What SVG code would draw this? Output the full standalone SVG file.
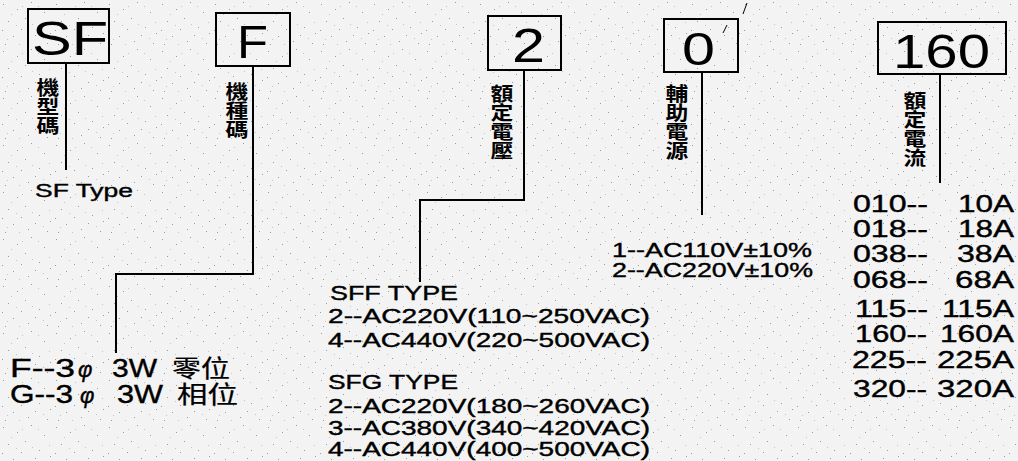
<svg xmlns="http://www.w3.org/2000/svg" width="1018" height="461" viewBox="0 0 1018 461">
<defs>
<pattern id="noise" width="53" height="47" patternUnits="userSpaceOnUse">
<rect width="53" height="47" fill="#f3f3f3"/>
<g fill="#9a9a9a">
<rect x="3" y="4" width="1" height="1"/><rect x="17" y="9" width="1" height="1"/><rect x="31" y="2" width="1" height="1"/>
<rect x="44" y="12" width="1" height="1"/><rect x="8" y="21" width="1" height="1"/><rect x="25" y="18" width="1" height="1"/>
<rect x="39" y="27" width="1" height="1"/><rect x="50" y="33" width="1" height="1"/><rect x="13" y="36" width="1" height="1"/>
<rect x="28" y="41" width="1" height="1"/><rect x="5" y="44" width="1" height="1"/><rect x="47" y="43" width="1" height="1"/>
<rect x="21" y="29" width="1" height="1"/><rect x="35" y="35" width="1" height="1"/><rect x="2" y="30" width="1" height="1"/>
</g>
<g fill="#c4c4c4">
<rect x="11" y="14" width="1" height="1"/><rect x="38" y="6" width="1" height="1"/><rect x="22" y="6" width="1" height="1"/>
<rect x="49" y="22" width="1" height="1"/><rect x="16" y="25" width="1" height="1"/><rect x="32" y="24" width="1" height="1"/>
<rect x="43" y="38" width="1" height="1"/><rect x="19" y="44" width="1" height="1"/><rect x="7" y="39" width="1" height="1"/>
</g>
</pattern>
<style>
.box{fill:none;stroke:#000;stroke-width:2}
.big{font-family:"Liberation Sans",Arial,sans-serif;fill:#000}
.t{font-family:"Liberation Sans",Arial,sans-serif;fill:#000;stroke:#000;stroke-width:0.4}
.cjk{font-family:"Noto Sans CJK TC","Noto Sans CJK SC",sans-serif;font-size:19px;font-weight:bold;fill:#000;writing-mode:vertical-rl;text-orientation:upright}
.cj{font-family:"Noto Sans CJK TC","Noto Sans CJK SC",sans-serif;font-size:24px;stroke-width:0.2}
.ln{fill:none;stroke:#000;stroke-width:2}
</style>
</defs>
<rect width="1018" height="461" fill="url(#noise)"/>

<g id="node-sf">
<rect class="box" x="28" y="9" width="81" height="54"/>
<text class="big" x="32" y="55" font-size="48" textLength="76" lengthAdjust="spacingAndGlyphs">SF</text>
<text class="cjk" transform="translate(48,78) scale(1.2,1)" x="0" y="0">機型碼</text>
<text class="t" x="35" y="197" font-size="19" textLength="98" lengthAdjust="spacingAndGlyphs">SF Type</text>
</g>

<g id="node-f">
<rect class="box" x="216" y="13" width="74" height="53"/>
<text class="big" x="237" y="58" font-size="46" textLength="31" lengthAdjust="spacingAndGlyphs">F</text>
<text class="cjk" transform="translate(237,82) scale(1.2,1)" x="0" y="0">機種碼</text>
<text class="t" font-size="26"><tspan x="10" y="377" textLength="65" lengthAdjust="spacingAndGlyphs">F--3</tspan><tspan x="78" y="377" font-size="22" font-style="italic">φ</tspan><tspan x="112" y="377" textLength="45" lengthAdjust="spacingAndGlyphs">3W</tspan><tspan class="cj" x="172" y="377" textLength="58" lengthAdjust="spacingAndGlyphs">零位</tspan><tspan x="10" y="403" textLength="63" lengthAdjust="spacingAndGlyphs">G--3</tspan><tspan x="80" y="403" font-size="22" font-style="italic">φ</tspan><tspan x="117" y="403" textLength="46" lengthAdjust="spacingAndGlyphs">3W</tspan><tspan class="cj" x="177" y="403" textLength="61" lengthAdjust="spacingAndGlyphs">相位</tspan></text>
</g>

<g id="node-voltage">
<rect class="box" x="488" y="16" width="73" height="54"/>
<text class="big" x="512" y="62" font-size="48" textLength="33" lengthAdjust="spacingAndGlyphs">2</text>
<text class="cjk" transform="translate(502,84) scale(1.2,1)" x="0" y="0">額定電壓</text>
<text class="t" x="330" y="300" font-size="21" textLength="128" lengthAdjust="spacingAndGlyphs">SFF TYPE</text>
<text class="t" x="328" y="323" font-size="21" textLength="322" lengthAdjust="spacingAndGlyphs">2--AC220V(110~250VAC)</text>
<text class="t" x="328" y="347" font-size="21" textLength="322" lengthAdjust="spacingAndGlyphs">4--AC440V(220~500VAC)</text>
<text class="t" x="328" y="389" font-size="21" textLength="130" lengthAdjust="spacingAndGlyphs">SFG TYPE</text>
<text class="t" x="328" y="413" font-size="21" textLength="322" lengthAdjust="spacingAndGlyphs">2--AC220V(180~260VAC)</text>
<text class="t" x="328" y="435" font-size="21" textLength="322" lengthAdjust="spacingAndGlyphs">3--AC380V(340~420VAC)</text>
<text class="t" x="328" y="456" font-size="21" textLength="322" lengthAdjust="spacingAndGlyphs">4--AC440V(400~500VAC)</text>
</g>

<g id="node-aux">
<rect class="box" x="664" y="19" width="74" height="53"/>
<text class="big" x="682" y="65" font-size="46" textLength="33" lengthAdjust="spacingAndGlyphs">0</text>
<path d="M723 33 L727 25 M743 14 L747 3" stroke="#000" stroke-width="1" fill="none"/>
<text class="cjk" transform="translate(677,84) scale(1.2,1)" x="0" y="0">輔助電源</text>
<text class="t" font-size="21"><tspan x="612" y="257" textLength="200" lengthAdjust="spacingAndGlyphs">1--AC110V±10%</tspan><tspan x="612" y="277" textLength="201" lengthAdjust="spacingAndGlyphs">2--AC220V±10%</tspan></text>
</g>

<g id="node-current">
<rect class="box" x="878" y="22" width="128" height="52"/>
<text class="big" x="893" y="68" font-size="48" textLength="97" lengthAdjust="spacingAndGlyphs">160</text>
<text class="cjk" transform="translate(915,91) scale(1.2,1)" x="0" y="0">額定電流</text>
<g class="t" font-size="24">
<text x="853" y="212" textLength="75" lengthAdjust="spacingAndGlyphs">010--</text>
<text x="853" y="237" textLength="75" lengthAdjust="spacingAndGlyphs">018--</text>
<text x="853" y="262" textLength="75" lengthAdjust="spacingAndGlyphs">038--</text>
<text x="853" y="288" textLength="75" lengthAdjust="spacingAndGlyphs">068--</text>
<text x="855" y="317" textLength="73" lengthAdjust="spacingAndGlyphs">115--</text>
<text x="855" y="342" textLength="72" lengthAdjust="spacingAndGlyphs">160--</text>
<text x="852" y="368" textLength="75" lengthAdjust="spacingAndGlyphs">225--</text>
<text x="853" y="397" textLength="74" lengthAdjust="spacingAndGlyphs">320--</text>
<text x="958" y="212" textLength="56" lengthAdjust="spacingAndGlyphs">10A</text>
<text x="958" y="237" textLength="56" lengthAdjust="spacingAndGlyphs">18A</text>
<text x="957" y="262" textLength="57" lengthAdjust="spacingAndGlyphs">38A</text>
<text x="955" y="288" textLength="59" lengthAdjust="spacingAndGlyphs">68A</text>
<text x="942" y="317" textLength="72" lengthAdjust="spacingAndGlyphs">115A</text>
<text x="940" y="342" textLength="74" lengthAdjust="spacingAndGlyphs">160A</text>
<text x="937" y="368" textLength="77" lengthAdjust="spacingAndGlyphs">225A</text>
<text x="937" y="397" textLength="77" lengthAdjust="spacingAndGlyphs">320A</text>
</g>
</g>

<g id="connectors">
<path class="ln" d="M66 63 V170"/>
<path class="ln" d="M253 66 V274 H116 V353"/>
<path class="ln" d="M524 70 V200 H420 V282"/>
<path class="ln" d="M702 72 V215"/>
<path class="ln" d="M940 74 V183"/>
</g>
</svg>
